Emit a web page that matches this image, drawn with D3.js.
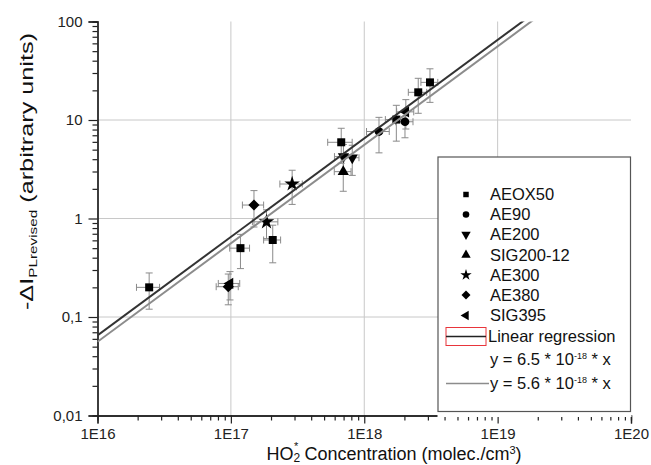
<!DOCTYPE html>
<html>
<head>
<meta charset="utf-8">
<script src="https://cdn.jsdelivr.net/npm/d3@7"></script>
<style>
  body { margin: 0; background: #fff; }
  svg { display: block; font-family: "Liberation Sans", Arial, sans-serif; }
</style>
</head>
<body>
<svg id="chart" width="651" height="465"></svg>
<script>
// Each point: [HO2 concentration, -ΔI, x error, y error]
const aeox50 = [
  [3.11e18, 24.1, 0.45e18, 9.0],
  [2.54e18, 19.1, 0.40e18, 7.4],
  [1.74e18, 10.1, 0.30e18, 4.0],
  [6.72e17, 5.94, 1.40e17, 2.3],
  [2.06e17, 0.605, 0.30e17, 0.25],
  [1.18e17, 0.50, 0.20e17, 0.19],
  [2.44e16, 0.20, 0.48e16, 0.08]
];
const ae90 = [
  [2.02e18, 9.6, 0.30e18, 3.0],
  [1.29e18, 7.64, 0.25e18, 3.0]
];
const ae200 = [
  [8.13e17, 4.14, 1.00e17, 1.4],
  [6.98e17, 4.25, 1.00e17, 1.4]
];
const sig20012 = [
  [6.96e17, 2.99, 1.00e17, 1.1]
];
const ae300 = [
  [2.88e17, 2.24, 0.55e17, 0.85],
  [1.85e17, 0.925, 0.40e17, 0.30]
];
const ae380 = [
  [1.49e17, 1.37, 0.27e17, 0.55],
  [9.56e16, 0.203, 1.80e16, 0.07]
];
const sig395 = [
  [2.05e18, 12.1, 0.30e18, 4.0],
  [9.85e16, 0.219, 1.80e16, 0.07]
];

const seriesNames = ["AEOX50", "AE90", "AE200", "SIG200-12", "AE300", "AE380", "SIG395"];
const seriesData = [aeox50, ae90, ae200, sig20012, ae300, ae380, sig395];

// Proportional fits y = k * x
const fitSlopes = [6.5e-18, 5.6e-18];

const xTickValues = [1e16, 1e17, 1e18, 1e19, 1e20];
const xTickLabels = ["1E16", "1E17", "1E18", "1E19", "1E20"];
const yTickValues = [0.01, 0.1, 1, 10, 100];
const yTickLabels = ["0,01", "0,1", "1", "10", "100"];

// ---- layout ----
const plotLeft = 97.5, plotRight = 631, plotTop = 21.5, plotBottom = 415.5;
const svg = d3.select("#chart");

const x = d3.scaleLog().domain([1e16, 1e20]).range([plotLeft, plotRight]);
const y = d3.scaleLog().domain([0.01, 100]).range([plotBottom, plotTop]);

// minor tick values (2..9 per decade)
function minors(lo, hi) {
  const out = [];
  for (let e = Math.log10(lo); e < Math.log10(hi); e++) {
    for (let m = 2; m <= 9; m++) out.push(m * Math.pow(10, e));
  }
  return out;
}

// grid
const grid = svg.append("g").attr("stroke", "#c8c8c8").attr("stroke-width", 1);
xTickValues.slice(1, -1).forEach(v => {
  grid.append("line").attr("x1", x(v)).attr("x2", x(v)).attr("y1", plotTop).attr("y2", plotBottom);
});
yTickValues.slice(1, -1).forEach(v => {
  grid.append("line").attr("x1", plotLeft).attr("x2", plotRight).attr("y1", y(v)).attr("y2", y(v));
});

// axes
const xAxisMajor = d3.axisBottom(x).tickValues(xTickValues)
  .tickFormat((d, i) => xTickLabels[i]).tickSize(8).tickPadding(5);
const xAxisMinor = d3.axisBottom(x).tickValues(minors(1e16, 1e20)).tickFormat("").tickSize(5);
const yAxisMajor = d3.axisLeft(y).tickValues(yTickValues)
  .tickFormat((d, i) => yTickLabels[i]).tickSize(9).tickPadding(6);
const yAxisMinor = d3.axisLeft(y).tickValues(minors(0.01, 100)).tickFormat("").tickSize(5);

function styleAxis(g) {
  g.selectAll("path.domain").attr("stroke", "#222").attr("stroke-width", 1.3);
  g.selectAll(".tick line").attr("stroke", "#222").attr("stroke-width", 1.2);
  g.selectAll(".tick text").attr("fill", "#222").style("font-size", "15px")
    .style("font-family", "'Liberation Sans', Arial, sans-serif");
}
svg.append("g").attr("transform", `translate(0,${plotBottom})`).call(xAxisMinor).call(styleAxis);
svg.append("g").attr("transform", `translate(0,${plotBottom})`).call(xAxisMajor).call(styleAxis);
svg.append("g").attr("transform", `translate(${plotLeft},0)`).call(yAxisMinor).call(styleAxis);
svg.append("g").attr("transform", `translate(${plotLeft},0)`).call(yAxisMajor).call(styleAxis);

// marker shapes
const shapes = [
  { type: d3.symbolSquare, size: 64, rot: 0 },
  { type: d3.symbolCircle, size: 60, rot: 0 },
  { type: d3.symbolTriangle, size: 55, rot: 180 },
  { type: d3.symbolTriangle, size: 55, rot: 0 },
  { type: d3.symbolStar, size: 75, rot: 0 },
  { type: d3.symbolSquare, size: 62, rot: 45 },
  { type: d3.symbolTriangle, size: 55, rot: -90 }
];

// error bars
const errG = svg.append("g").attr("stroke", "#8a8a8a").attr("stroke-width", 1).attr("fill", "none");
const cap = 3.5;
seriesData.forEach(pts => {
  pts.forEach(([cx, cy, ex, ey]) => {
    const px = x(cx), py = y(cy);
    const yTop = y(cy + ey), yBot = y(Math.max(cy - ey, 1e-3));
    const xL = x(cx - ex), xR = x(cx + ex);
    errG.append("line").attr("x1", px).attr("x2", px).attr("y1", yTop).attr("y2", yBot);
    errG.append("line").attr("x1", px - cap).attr("x2", px + cap).attr("y1", yTop).attr("y2", yTop);
    errG.append("line").attr("x1", px - cap).attr("x2", px + cap).attr("y1", yBot).attr("y2", yBot);
    errG.append("line").attr("x1", xL).attr("x2", xR).attr("y1", py).attr("y2", py);
    errG.append("line").attr("x1", xL).attr("x2", xL).attr("y1", py - cap).attr("y2", py + cap);
    errG.append("line").attr("x1", xR).attr("x2", xR).attr("y1", py - cap).attr("y2", py + cap);
  });
});

// markers
const markG = svg.append("g");
seriesData.forEach((pts, si) => {
  const s = shapes[si];
  markG.selectAll(null).data(pts).enter().append("path")
    .attr("d", d3.symbol().type(s.type).size(s.size))
    .attr("transform", d => `translate(${x(d[0])},${y(d[1])}) rotate(${s.rot})`)
    .attr("fill", "#000");
});

// fit lines, clipped to the plot area
svg.append("clipPath").attr("id", "plotClip").append("rect")
  .attr("x", plotLeft).attr("y", plotTop)
  .attr("width", plotRight - plotLeft).attr("height", plotBottom - plotTop);
const fitColors = ["#333333", "#8c8c8c"];
const line = d3.line().x(d => x(d[0])).y(d => y(d[1]));
fitSlopes.forEach((k, i) => {
  svg.append("path")
    .attr("clip-path", "url(#plotClip)")
    .attr("d", line([[1e16, k * 1e16], [1e20, k * 1e20]]))
    .attr("stroke", fitColors[i]).attr("stroke-width", 2).attr("fill", "none");
});

// legend
const lg = svg.append("g");
lg.append("rect").attr("x", 437.5).attr("y", 411).attr("width", 194).attr("height", 6).attr("fill", "#fff");
lg.append("rect").attr("x", 438).attr("y", 157).attr("width", 192.5).attr("height", 254.5)
  .attr("fill", "#fff").attr("stroke", "#555").attr("stroke-width", 1.2);
const legendRows = [194.5, 214.5, 234.5, 255, 275, 295, 315.5];
const legendShapes = [
  { type: d3.symbolSquare, size: 30, rot: 0 },
  { type: d3.symbolCircle, size: 34, rot: 0 },
  { type: d3.symbolTriangle, size: 38, rot: 180 },
  { type: d3.symbolTriangle, size: 38, rot: 0 },
  { type: d3.symbolStar, size: 40, rot: 0 },
  { type: d3.symbolSquare, size: 40, rot: 45 },
  { type: d3.symbolTriangle, size: 38, rot: -90 }
];
const legendText = { x: 490, size: "16.5px" };
seriesNames.forEach((name, i) => {
  const s = legendShapes[i];
  lg.append("path").attr("d", d3.symbol().type(s.type).size(s.size))
    .attr("transform", `translate(466,${legendRows[i]}) rotate(${s.rot})`).attr("fill", "#000");
  lg.append("text").attr("x", legendText.x).attr("y", legendRows[i]).attr("dy", "0.35em")
    .style("font-size", legendText.size).attr("fill", "#111").text(name);
});
// regression entry
lg.append("rect").attr("x", 446).attr("y", 327.5).attr("width", 40).attr("height", 18)
  .attr("fill", "none").attr("stroke", "#e8353b").attr("stroke-width", 1);
lg.append("line").attr("x1", 446).attr("x2", 486).attr("y1", 336.5).attr("y2", 336.5)
  .attr("stroke", "#222").attr("stroke-width", 1.5);
lg.append("text").attr("x", 488).attr("y", 336.5).attr("dy", "0.35em")
  .style("font-size", legendText.size).attr("fill", "#111").text("Linear regression");

function eqText(yPos, coef) {
  const t = lg.append("text").attr("x", 490).attr("y", yPos).attr("dy", "0.35em")
    .style("font-size", legendText.size).attr("fill", "#111");
  t.append("tspan").text(`y = ${coef} * 10`);
  t.append("tspan").attr("dy", "-6").style("font-size", "9px").text("-18");
  t.append("tspan").attr("dy", "6").text(" * x");
}
eqText(359, "6.5");
lg.append("line").attr("x1", 446).attr("x2", 489).attr("y1", 383.5).attr("y2", 383.5)
  .attr("stroke", "#8c8c8c").attr("stroke-width", 1.5);
eqText(383.5, "5.6");

// axis titles
const xt = svg.append("text").attr("x", 394).attr("y", 460).attr("text-anchor", "middle")
  .style("font-size", "18px").attr("fill", "#111");
xt.append("tspan").text("HO");
xt.append("tspan").attr("dy", "2").style("font-size", "12px").text("2");
xt.append("tspan").attr("dx", "-6").attr("dy", "-12").style("font-size", "11px").text("*");
xt.append("tspan").attr("dx", "1").attr("dy", "10").text(" Concentration (molec./cm");
xt.append("tspan").attr("dy", "-6").style("font-size", "11px").text("3");
xt.append("tspan").attr("dy", "6").text(")");

// y title, glyphs drawn elongated along the text direction
const yt = svg.append("g").attr("transform", "translate(33,171.5) rotate(-90) scale(1.33,1)")
  .append("text").attr("text-anchor", "middle").style("font-size", "19px").attr("fill", "#111");
yt.append("tspan").text("-\u0394I");
yt.append("tspan").attr("dy", "4").style("font-size", "11.5px").text("PLrevised");
yt.append("tspan").attr("dy", "-4").text(" (arbitrary units)");
</script>
</body>
</html>
